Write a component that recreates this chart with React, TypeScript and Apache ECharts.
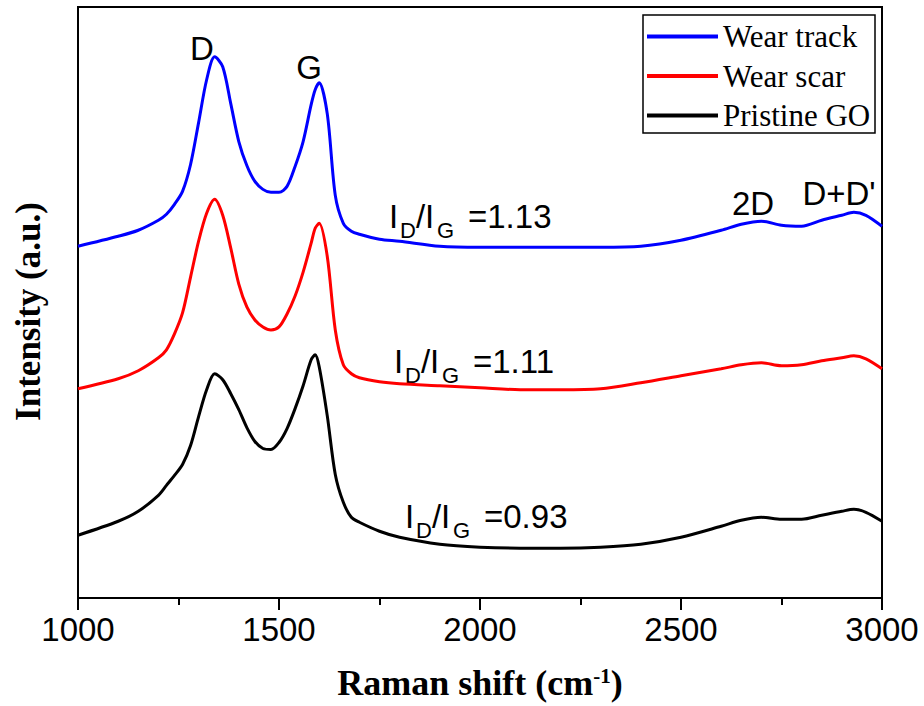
import React, { useEffect, useRef } from "react";
import * as echarts from "echarts";

// Raman shift (cm-1), shared by the three spectra
const ramanShift = [1000, 1100, 1150, 1200, 1220, 1240, 1260, 1280, 1300, 1320, 1340, 1360, 1380, 1400, 1420, 1440, 1460, 1480, 1500, 1520, 1540, 1560, 1580, 1590, 1600, 1620, 1640, 1660, 1680, 1700, 1750, 1800, 1900, 2000, 2100, 2200, 2300, 2400, 2500, 2600, 2650, 2700, 2750, 2800, 2850, 2900, 2930, 2960, 3000];
// offset intensities (a.u.)
const wearTrack = [353, 363, 369, 379, 385, 395, 408, 435, 477, 520, 543, 533, 496, 458, 434, 418, 410, 407, 407, 413, 433, 458, 495, 510, 517, 486, 404, 376, 368, 365, 360, 358, 353, 352, 352, 352, 352, 353, 359, 369, 375, 378, 374, 373, 379, 384, 387, 384, 373];
const wearScar = [210, 220, 228, 241, 249, 265, 286, 322, 358, 386, 400, 384, 351, 315, 292, 279, 272, 269, 272, 285, 303, 327, 356, 371, 376, 343, 269, 234, 225, 221, 217, 215, 213, 211, 209, 209, 210, 216, 223, 230, 234, 236, 233, 234, 238, 241, 243, 240, 230];
const pristineGO = [63, 77, 87, 103, 113, 123, 134, 153, 182, 209, 225, 219, 205, 189, 171, 157, 150, 149, 156, 170, 190, 213, 239, 244, 232, 183, 124, 96, 81, 76, 67, 61, 54, 51, 50, 50, 51, 54, 61, 72, 78, 81, 79, 79, 83, 87, 89, 86, 77];

const seriesNames = ["Wear track", "Wear scar", "Pristine GO"];
const seriesColors = ["#0000ff", "#ff0000", "#000000"];

const xTicks = { min: 1000, max: 3000, interval: 500 };

const peakLabels = ["D", "G", "2D", "D+D'"];
const ratioValues = ["1.13", "1.11", "0.93"];

const SANS = '"Liberation Sans", Arial, sans-serif';
const SERIF = '"Liberation Serif", "Times New Roman", serif';

function txt(text: string, x: number, y: number, size: number, align = "left") {
  return {
    type: "text",
    silent: true,
    style: {
      text,
      x,
      y,
      font: `${size}px ${SANS}`,
      fill: "#000",
      align,
      textAlign: align,
      verticalAlign: "middle",
      textVerticalAlign: "middle",
    },
  };
}

function ratioLabel(x0: number, yc: number, value: string) {
  const main = 33;
  const sub = 22;
  const ys = yc + 14;
  return [
    txt("I", x0 - 3, yc, main),
    txt("D", x0 + 8, ys, sub),
    txt("/", x0 + 24, yc, main),
    txt("I", x0 + 33, yc, main),
    txt("G", x0 + 45, ys, sub),
    txt("=" + value, x0 + 76, yc, main),
  ];
}

function zip(xs: number[], ys: number[]) {
  return xs.map((x, i) => [x, ys[i]]);
}

export default function App() {
  const ref = useRef<HTMLDivElement>(null);
  useEffect(() => {
    if (!ref.current) return;
    const chart = echarts.init(ref.current, null, { renderer: "svg" });
    const datasets = [
      zip(ramanShift, wearTrack),
      zip(ramanShift, wearScar),
      zip(ramanShift, pristineGO),
    ];
    chart.setOption({
      animation: false,
      backgroundColor: "#fff",
      grid: {
        left: 78,
        right: 42,
        top: 7,
        bottom: 106,
        show: true,
        borderColor: "#000",
        borderWidth: 2,
        containLabel: false,
      },
      legend: {
        orient: "vertical",
        left: 647,
        top: 21,
        padding: 0,
        icon: "rect",
        itemWidth: 71,
        itemHeight: 4,
        itemGap: 8.5,
        selectedMode: false,
        data: seriesNames,
        textStyle: {
          fontFamily: SERIF,
          fontSize: 31,
          color: "#000",
          lineHeight: 30,
        },
      },
      xAxis: {
        type: "value",
        min: xTicks.min,
        max: xTicks.max,
        interval: xTicks.interval,
        name: "{b|Raman shift (cm}{s|-1}{b|)}",
        nameLocation: "middle",
        nameGap: 67,
        nameTextStyle: {
          rich: {
            b: {
              fontFamily: SERIF,
              fontWeight: "bold",
              fontSize: 36,
              lineHeight: 36,
              color: "#000",
              verticalAlign: "bottom",
            },
            s: {
              fontFamily: SERIF,
              fontWeight: "bold",
              fontSize: 21,
              lineHeight: 21,
              color: "#000",
              verticalAlign: "top",
            },
          },
        },
        axisLine: { show: true, onZero: false, lineStyle: { color: "#000", width: 2 } },
        axisTick: { show: true, inside: false, length: 12, lineStyle: { color: "#000", width: 2 } },
        minorTick: { show: true, splitNumber: 2, length: 7, lineStyle: { color: "#000", width: 2 } },
        axisLabel: {
          color: "#000",
          fontFamily: SANS,
          fontSize: 33,
          margin: 15,
          formatter: (v: number) => String(v),
        },
        splitLine: { show: false },
      },
      yAxis: {
        type: "value",
        min: 0,
        max: 593,
        name: "Intensity (a.u.)",
        nameLocation: "middle",
        nameGap: 32,
        nameTextStyle: {
          fontFamily: SERIF,
          fontWeight: "bold",
          fontSize: 35,
          color: "#000",
          padding: [0, 18, 0, 0],
        },
        axisLine: { show: true, lineStyle: { color: "#000", width: 2 } },
        axisTick: { show: false },
        axisLabel: { show: false },
        splitLine: { show: false },
      },
      series: seriesNames.map((name, i) => ({
        name,
        type: "line",
        data: datasets[i],
        symbol: "none",
        smooth: 0.3,
        color: seriesColors[i],
        lineStyle: { color: seriesColors[i], width: 3 },
        z: 3 - i,
      })),
      graphic: [
        {
          type: "rect",
          silent: true,
          shape: { x: 643, y: 15, width: 232, height: 118 },
          style: { fill: "none", stroke: "#000", lineWidth: 1.5 },
          z: 10,
        },
        txt(peakLabels[0], 202, 48, 33, "center"),
        txt(peakLabels[1], 309, 67, 33, "center"),
        txt(peakLabels[2], 753, 203, 33, "center"),
        txt(peakLabels[3], 839, 193, 33, "center"),
        ...ratioLabel(392, 216, ratioValues[0]),
        ...ratioLabel(397, 361, ratioValues[1]),
        ...ratioLabel(408, 516, ratioValues[2]),
      ],
    });
    return () => chart.dispose();
  }, []);
  return <div ref={ref} style={{ width: 924, height: 706, position: "absolute", left: 0, top: 0 }} />;
}
